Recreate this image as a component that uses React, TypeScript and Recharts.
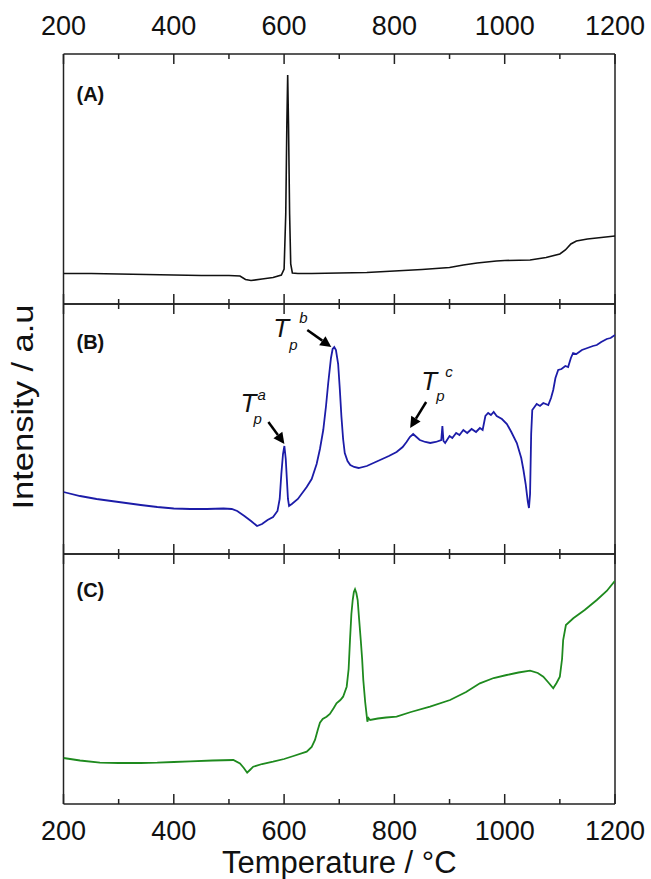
import React from "react";
import { LineChart, Line, XAxis, YAxis, ReferenceLine, ReferenceDot } from "recharts";

// temperatures (°C) and intensities (a.u., read as height above each panel floor)
const tempA = [200, 250, 300, 350, 400, 450, 500, 520, 530, 540, 560, 580, 595, 600, 603, 605, 606.5, 608, 610, 612, 615, 625, 650, 700, 750, 800, 850, 900, 925, 950, 985, 1000, 1046, 1075, 1100, 1110, 1120, 1130, 1150, 1175, 1200];
const intensityA = [30.5, 30.5, 30, 29.5, 29, 28.5, 28.5, 28, 24.5, 23.5, 25, 26.5, 29, 35, 90, 180, 229, 180, 90, 40, 31, 30.5, 30.5, 31, 31.5, 33, 34.5, 36.5, 39, 41, 43, 43.5, 44, 46.5, 50, 54, 60, 63, 65, 66.5, 68];

const tempB = [200, 230, 260, 300, 340, 370, 400, 430, 460, 490, 505, 515, 528, 540, 551, 560, 570, 580, 588, 592, 595, 598, 600.5, 603, 605, 607, 609, 614, 625, 641, 650, 659, 665, 671, 676, 680, 685, 688, 691, 694, 698, 701, 704, 707, 710, 715, 720, 727, 735, 750, 774, 790, 804, 815, 822, 828, 834, 840, 846, 856, 865, 875, 885, 887, 889, 892, 900, 905, 912, 918, 925, 932, 940, 948, 955, 960, 965, 970, 975, 980, 985.5, 995, 1004, 1012, 1022, 1030, 1034, 1038, 1042, 1044, 1046, 1048, 1050, 1054, 1058, 1064, 1070, 1079, 1084, 1088, 1092, 1097, 1103, 1110, 1115, 1120, 1124, 1130, 1140, 1150, 1160, 1167, 1175, 1185, 1192, 1200];
const intensityB = [62, 58, 55, 52, 49, 47, 45.5, 45, 45, 45.5, 45, 43, 38, 33, 28, 30, 34, 37, 43, 55, 80, 100, 108, 95, 75, 55, 48, 50, 55, 67, 75, 90, 105, 124, 148, 171, 196, 205, 207, 204, 190, 165, 137, 115, 101, 93, 89, 87, 86, 88, 94, 98, 102, 107, 112, 117, 120, 117, 114, 112, 111, 112, 114, 128, 113, 111, 118, 116, 121, 119, 124, 121, 125, 122, 126, 124, 138, 141, 139, 142, 138, 135, 130, 122, 111, 96, 84, 70, 52, 46, 60, 120, 144, 147, 150, 148, 151, 149, 156, 164, 176, 184, 185, 188, 187, 196, 201, 200, 204, 206, 208, 209, 212, 215, 216, 219];

const tempC = [200, 230, 266, 300, 340, 370, 400, 430, 470, 508, 520, 527, 533, 538, 544, 560, 580, 600, 617, 641, 650, 656, 661, 665, 670, 677, 683, 690, 695, 702, 707, 713.5, 717, 719.5, 722, 724.4, 726.5, 728.6, 731, 733.4, 736, 739, 741.5, 743.6, 747, 751, 753, 756, 770, 785, 804, 830, 864.6, 901, 930, 955, 980, 1003.6, 1025, 1046, 1060, 1070, 1080, 1088, 1094, 1100, 1104, 1106, 1111, 1124.4, 1145, 1167, 1185, 1200];
const intensityC = [46, 43.5, 41.3, 41, 41, 41.3, 42, 42.7, 43.5, 44, 40.5, 36, 31.3, 34, 37.3, 40, 42.3, 45, 48, 52.3, 57, 64, 74, 81.3, 85, 87.3, 90, 96, 100.7, 104, 107.3, 117.3, 135, 164, 190, 204, 212, 214.7, 211, 204, 185, 164, 145, 124, 102, 82.3, 86, 84, 85.5, 86.5, 87.3, 92, 97.3, 104, 112, 120.7, 126, 129, 131.5, 133.3, 131, 127.3, 121, 115.7, 121, 127.3, 145, 164, 179, 185.7, 194, 204, 213, 223.3];

const majorTicks = [200, 400, 600, 800, 1000, 1200];
const allTicks = [200, 300, 400, 500, 600, 700, 800, 900, 1000, 1100, 1200];

const FONT = "'Liberation Sans', Arial, Helvetica, sans-serif";
const AXIS = "#222";
const W = 651;
const M_LEFT = 62.5; // plus 1px y axis -> plot starts at 63.5
const M_RIGHT = 36;

const toRows = (t: number[], v: number[]) => t.map((x, i) => ({ t: x, v: v[i] }));

function makeTick(side: "top" | "bottom", labels: boolean) {
  return (props: any) => {
    const { x, y, payload } = props;
    const major = majorTicks.includes(payload.value);
    const dir = side === "bottom" ? -1 : 1;
    return (
      <g>
        <line x1={x} x2={x} y1={y} y2={y + dir * (major ? 10 : 5)} stroke={AXIS} strokeWidth={1.5} />
        {labels && major && (
          <text x={x} y={side === "bottom" ? y + 36 : y - 19} textAnchor="middle" fontSize={27} fill="#111" fontFamily={FONT}>
            {payload.value}
          </text>
        )}
      </g>
    );
  };
}

function Arrow({ x1, y1, x2, y2 }: { x1: number; y1: number; x2: number; y2: number }) {
  const a = Math.atan2(y2 - y1, x2 - x1);
  const L = 11;
  const H = 5.5;
  const bx = x2 - L * Math.cos(a);
  const by = y2 - L * Math.sin(a);
  const pts = [
    [x2, y2],
    [bx + H * Math.sin(a), by - H * Math.cos(a)],
    [bx - H * Math.sin(a), by + H * Math.cos(a)],
  ].map((p) => p.join(",")).join(" ");
  return (
    <g>
      <line x1={x1} y1={y1} x2={bx} y2={by} stroke="#000" strokeWidth={2.5} />
      <polygon points={pts} fill="#000" />
    </g>
  );
}

// T_p label with arrow, placed relative to the peak it points at
function PeakNote(props: any) {
  const { cx, cy, sup, from, tip, t, sub, supPos } = props;
  if (cx == null || cy == null) return null;
  return (
    <g fontFamily={FONT} fontStyle="italic" fill="#111">
      <Arrow x1={cx + from[0]} y1={cy + from[1]} x2={cx + tip[0]} y2={cy + tip[1]} />
      <text x={cx + t[0]} y={cy + t[1]} fontSize={26}>T</text>
      <text x={cx + sub[0]} y={cy + sub[1]} fontSize={15}>p</text>
      <text x={cx + supPos[0]} y={cy + supPos[1]} fontSize={15}>{sup}</text>
    </g>
  );
}

function Tag(props: any) {
  const { cx, cy, text, dy } = props;
  if (cx == null || cy == null) return null;
  return (
    <text x={cx + 13} y={cy + dy} fontSize={20} fontWeight="bold" fontFamily={FONT} fill="#111">
      {text}
    </text>
  );
}

function YTitle(props: any) {
  const vb = props.viewBox || { x: M_LEFT, y: 1, width: 1 };
  const x = vb.x + (vb.width || 0) - 40.5;
  const y = vb.y + 103;
  return (
    <text x={x} y={y} transform={`rotate(-90 ${x} ${y})`} textAnchor="middle" dominantBaseline="central" fontSize={29} fontFamily={FONT} fill="#111" textLength={205} lengthAdjust="spacingAndGlyphs">
      Intensity / a.u
    </text>
  );
}

function XTitle(props: any) {
  const vb = props.viewBox || { x: M_LEFT + 1, y: 251, width: 551.5, height: 1 };
  return (
    <text x={vb.x + vb.width / 2} y={vb.y + 69} textAnchor="middle" fontSize={31} fontFamily={FONT} fill="#111">
      Temperature / °C
    </text>
  );
}

type PanelProps = {
  rows: { t: number; v: number }[];
  color: string;
  lineWidth: number;
  height: number;
  top: number;
  bottom: number;
  topLabels?: boolean;
  bottomLabels?: boolean;
  tag: string;
  tagDy: number;
  yTitle?: boolean;
  children?: React.ReactNode;
};

function Panel({ rows, color, lineWidth, height, top, bottom, topLabels, bottomLabels, tag, tagDy, yTitle, children }: PanelProps) {
  return (
    <LineChart width={W} height={height} data={rows} margin={{ top, right: M_RIGHT, bottom, left: M_LEFT }}>
      <XAxis
        xAxisId="b"
        dataKey="t"
        type="number"
        domain={[200, 1200]}
        ticks={allTicks}
        interval={0}
        orientation="bottom"
        height={1}
        tickSize={0}
        tickMargin={0}
        tickLine={false}
        tick={makeTick("bottom", !!bottomLabels)}
        axisLine={{ stroke: AXIS, strokeWidth: 1.5 }}
        allowDataOverflow
        label={bottomLabels ? <XTitle /> : undefined}
      />
      <XAxis
        xAxisId="t"
        dataKey="t"
        type="number"
        domain={[200, 1200]}
        ticks={allTicks}
        interval={0}
        orientation="top"
        height={1}
        tickSize={0}
        tickMargin={0}
        tickLine={false}
        tick={makeTick("top", !!topLabels)}
        axisLine={{ stroke: AXIS, strokeWidth: 1.5 }}
        allowDataOverflow
      />
      <YAxis
        type="number"
        domain={[0, 250]}
        width={1}
        tick={false}
        tickLine={false}
        axisLine={false}
        allowDataOverflow
        label={yTitle ? <YTitle /> : undefined}
      />
      <ReferenceLine xAxisId="b" x={200} stroke={AXIS} strokeWidth={1.5} ifOverflow="visible" />
      <ReferenceLine xAxisId="b" x={1200} stroke={AXIS} strokeWidth={1.5} ifOverflow="visible" />
      <Line
        xAxisId="b"
        dataKey="v"
        type="linear"
        stroke={color}
        strokeWidth={lineWidth}
        dot={false}
        activeDot={false}
        isAnimationActive={false}
      />
      <ReferenceDot xAxisId="b" x={200} y={250} r={0} ifOverflow="visible" shape={(p: any) => <Tag {...p} text={tag} dy={tagDy} />} />
      {children}
    </LineChart>
  );
}

export default function App() {
  const rowsA = toRows(tempA, intensityA);
  const rowsB = toRows(tempB, intensityB);
  const rowsC = toRows(tempC, intensityC);
  return (
    <div style={{ position: "absolute", left: 0, top: 0, width: W, height: 879, background: "#fff" }}>
      <div style={{ position: "absolute", left: 0, top: 0 }}>
        <Panel rows={rowsA} color="#111111" lineWidth={1.6} height={305} top={53} bottom={0} topLabels tag="(A)" tagDy={47} />
      </div>
      <div style={{ position: "absolute", left: 0, top: 303 }}>
        <Panel rows={rowsB} color="#1c1ca8" lineWidth={1.8} height={252} top={0} bottom={0} tag="(B)" tagDy={45} yTitle>
          <ReferenceDot
            xAxisId="b"
            x={600.5}
            y={108}
            r={0}
            ifOverflow="visible"
            shape={(p: any) => <PeakNote {...p} sup="a" from={[-16, -24]} tip={[0, -2]} t={[-44, -34]} sub={[-31, -22]} supPos={[-27, -46]} />}
          />
          <ReferenceDot
            xAxisId="b"
            x={691}
            y={207}
            r={0}
            ifOverflow="visible"
            shape={(p: any) => <PeakNote {...p} sup="b" from={[-27, -17]} tip={[-3, 0]} t={[-61, -10]} sub={[-45, 3]} supPos={[-35, -24]} />}
          />
          <ReferenceDot
            xAxisId="b"
            x={834}
            y={120}
            r={0}
            ifOverflow="visible"
            shape={(p: any) => <PeakNote {...p} sup="c" from={[13, -32]} tip={[-3, -6]} t={[8, -44]} sub={[23, -33]} supPos={[32, -57]} />}
          />
        </Panel>
      </div>
      <div style={{ position: "absolute", left: 0, top: 553 }}>
        <Panel rows={rowsC} color="#1e8a1e" lineWidth={1.8} height={326} top={0} bottom={74} bottomLabels tag="(C)" tagDy={43} />
      </div>
    </div>
  );
}
